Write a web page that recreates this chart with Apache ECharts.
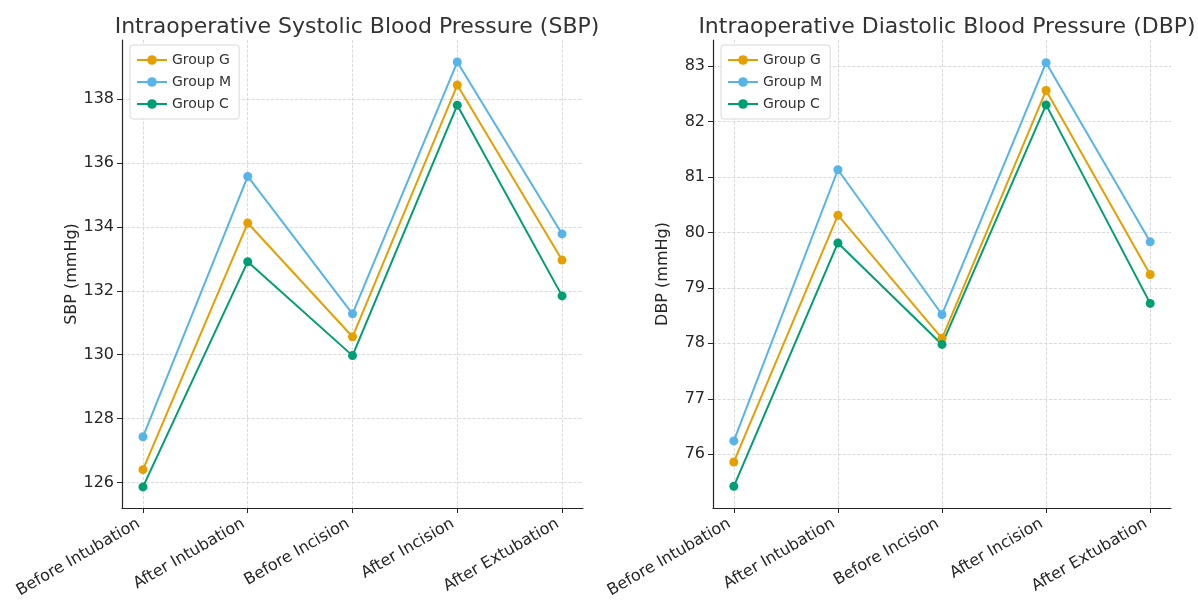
<!DOCTYPE html>
<html>
<head>
    <meta charset="utf-8">
    <title>Intraoperative Blood Pressure</title>
    <script src="https://cdn.jsdelivr.net/npm/echarts@6/dist/echarts.min.js"></script>
    <style>
        html, body { margin: 0; padding: 0; background: #fff; }
        #chart { width: 1198px; height: 601px; }
    </style>
</head>
<body>
<div id="chart"></div>
<script>
    // 时间点
    var stages = ['Before Intubation', 'After Intubation', 'Before Incision', 'After Incision', 'After Extubation'];
    var groups = ['Group G', 'Group M', 'Group C'];
    var colors = ['#E69F00', '#56B4E9', '#009E73'];

    // SBP (mmHg)
    var sbpG = [126.40, 134.12, 130.56, 138.44, 132.96];
    var sbpM = [127.43, 135.58, 131.28, 139.16, 133.78];
    var sbpC = [125.86, 132.91, 129.97, 137.81, 131.84];
    var sbpTicks = [126, 128, 130, 132, 134, 136, 138];

    // DBP (mmHg)
    var dbpG = [75.86, 80.31, 78.09, 82.56, 79.24];
    var dbpM = [76.24, 81.13, 78.52, 83.06, 79.83];
    var dbpC = [75.42, 79.81, 77.98, 82.30, 78.72];
    var dbpTicks = [76, 77, 78, 79, 80, 81, 82, 83];

    var stageIdx = [0, 1, 2, 3, 4];
    var font = 'DejaVu Sans';
    var txt = '#262626';

    function pairs(vals) {
        return vals.map(function (v, i) { return [i, v]; });
    }

    function xAxisOf(gi) {
        return {
            type: 'value', gridIndex: gi, min: -0.2, max: 4.2,
            axisLine: { show: true, onZero: false, lineStyle: { color: '#262626', width: 1.2 } },
            axisTick: { show: true, length: 5, customValues: stageIdx, lineStyle: { color: '#262626' } },
            axisLabel: {
                customValues: stageIdx, rotate: 30, fontSize: 16, fontFamily: font, color: txt, margin: 12,
                padding: [0, 5, 0, 0],
                formatter: function (v) { return stages[Math.round(v)] || ''; }
            },
            splitLine: { show: true, lineStyle: { color: '#d0d0d0', type: 'dashed', width: 0.8 } }
        };
    }

    function yAxisOf(gi, min, max, ticks, name) {
        return {
            type: 'value', gridIndex: gi, min: min, max: max,
            name: name, nameLocation: 'middle', nameGap: 42, nameRotate: 90,
            nameTextStyle: { fontSize: 16, fontFamily: font, color: txt },
            axisLine: { show: true, onZero: false, lineStyle: { color: '#262626', width: 1.2 } },
            axisTick: { show: true, length: 5, customValues: ticks, lineStyle: { color: '#262626' } },
            axisLabel: { customValues: ticks, fontSize: 16, fontFamily: font, color: txt, margin: 8 },
            splitLine: { show: true, lineStyle: { color: '#d0d0d0', type: 'dashed', width: 0.8 } }
        };
    }

    function lineSeries(name, data, gi, color) {
        return {
            name: name, type: 'line', xAxisIndex: gi, yAxisIndex: gi,
            data: pairs(data), symbol: 'circle', symbolSize: 9,
            lineStyle: { color: color, width: 2 },
            itemStyle: { color: color },
            emphasis: { disabled: true }
        };
    }

    function legendOf(left) {
        return {
            data: groups, orient: 'vertical', left: left, top: 45,
            itemWidth: 30, itemHeight: 12, itemGap: 8,
            padding: [8, 8, 8, 6],
            backgroundColor: '#fff', borderColor: '#d8d8d8', borderWidth: 1, borderRadius: 3,
            textStyle: { fontSize: 14, fontFamily: font, color: '#333' }
        };
    }

    var myChart = echarts.init(document.getElementById('chart'), null, { renderer: 'canvas' });
    myChart.setOption({
        backgroundColor: '#fff',
        animation: false,
        title: [
            { text: 'Intraoperative Systolic Blood Pressure (SBP)', left: 352, top: 11, textAlign: 'center',
              textStyle: { fontSize: 22, fontWeight: 'normal', fontFamily: font, color: '#333' } },
            { text: 'Intraoperative Diastolic Blood Pressure (DBP)', left: 942, top: 11, textAlign: 'center',
              textStyle: { fontSize: 22, fontWeight: 'normal', fontFamily: font, color: '#333' } }
        ],
        legend: [legendOf(130), legendOf(721)],
        grid: [
            { left: 122, top: 40, width: 461, height: 468 },
            { left: 713, top: 40, width: 458, height: 468 }
        ],
        xAxis: [xAxisOf(0), xAxisOf(1)],
        yAxis: [
            yAxisOf(0, 125.2, 139.85, sbpTicks, 'SBP (mmHg)'),
            yAxisOf(1, 75.03, 83.47, dbpTicks, 'DBP (mmHg)')
        ],
        series: [
            lineSeries('Group G', sbpG, 0, colors[0]),
            lineSeries('Group M', sbpM, 0, colors[1]),
            lineSeries('Group C', sbpC, 0, colors[2]),
            lineSeries('Group G', dbpG, 1, colors[0]),
            lineSeries('Group M', dbpM, 1, colors[1]),
            lineSeries('Group C', dbpC, 1, colors[2])
        ]
    });
</script>
</body>
</html>
